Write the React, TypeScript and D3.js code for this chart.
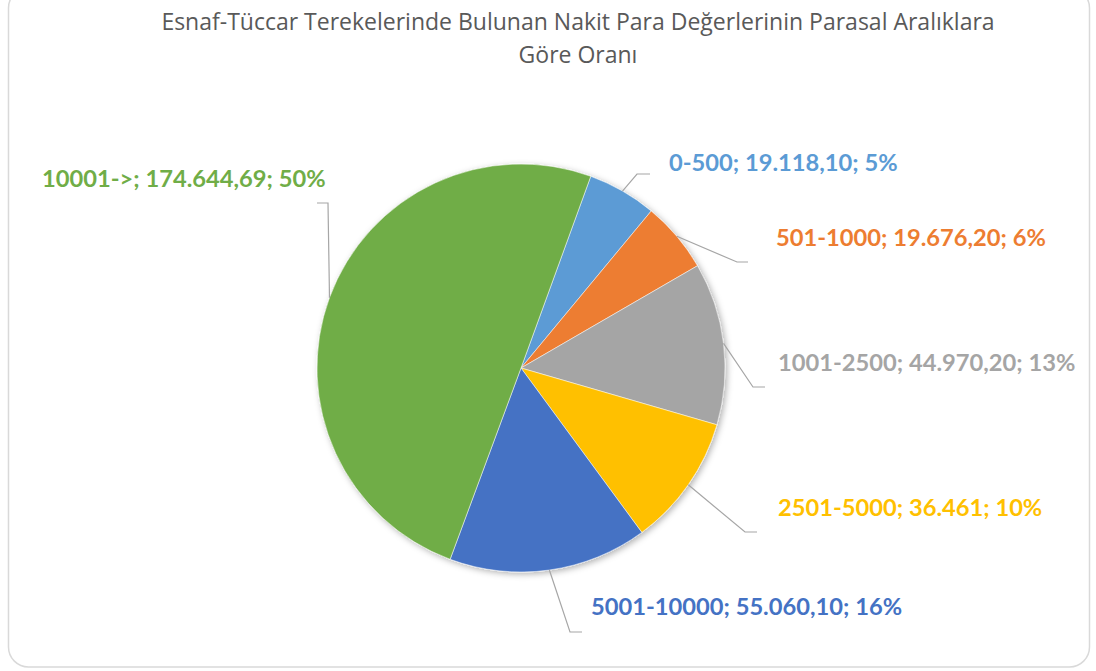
import React from "react";
import * as d3 from "d3";

const categories = ["0-500", "501-1000", "1001-2500", "2501-5000", "5001-10000", "10001->"];
const values = [19118.1, 19676.2, 44970.2, 36461, 55060.1, 174644.69];
const valueLabels = ["19.118,10", "19.676,20", "44.970,20", "36.461", "55.060,10", "174.644,69"];
const colors = ["#5B9BD5", "#ED7D31", "#A5A5A5", "#FFC000", "#4472C4", "#70AD47"];
const titleLines = [
  "Esnaf-Tüccar Terekelerinde Bulunan Nakit Para Değerlerinin Parasal Aralıklara",
  "Göre Oranı",
];

// label placement (text left x, text middle y, elbow of leader, end of leader)
const labelLayout = [
  { lx: 669, ly: 162, ex: 637, ey: 174, hx: 650 },
  { lx: 776, ly: 237, ex: 737, ey: 262, hx: 748 },
  { lx: 778, ly: 362, ex: 753, ey: 387, hx: 765 },
  { lx: 778, ly: 507, ex: 745, ey: 532, hx: 757 },
  { lx: 591, ly: 606, ex: 570, ey: 632, hx: 582 },
  { lx: 42, ly: 178, ex: 328, ey: 203, hx: 317 },
];

const W = 1096;
const H = 671;
const cx = 521;
const cy = 368;
const R = 204;

export default function App() {
  const total = d3.sum(values);
  const pie = d3
    .pie<number>()
    .sort(null)
    .startAngle((20 * Math.PI) / 180)
    .endAngle((380 * Math.PI) / 180);
  const arcs = pie(values);
  const arc = d3.arc<d3.PieArcDatum<number>>().innerRadius(0).outerRadius(R);

  return (
    <svg
      width={W}
      height={H}
      style={{ position: "absolute", left: 0, top: 0 }}
    >
      <defs>
        <filter id="shadow" x="-20%" y="-20%" width="140%" height="140%">
          <feDropShadow dx="2" dy="2" stdDeviation="3" floodColor="#000" floodOpacity="0.3" />
        </filter>
      </defs>
      <rect x={0} y={0} width={W} height={H} fill="#fff" />
      <rect
        x={8.5}
        y={-12}
        width={1081}
        height={679}
        rx={20}
        fill="#fff"
        stroke="#d9d9d9"
        strokeWidth={1.5}
      />
      <g fontFamily="'Open Sans', sans-serif" fontSize={23} fill="#595959" textAnchor="middle">
        {titleLines.map((t, i) => (
          <text key={i} x={578} y={21 + i * 33} dominantBaseline="central">
            {t}
          </text>
        ))}
      </g>
      <g transform={`translate(${cx},${cy})`} filter="url(#shadow)">
        {arcs.map((a, i) => (
          <path key={i} d={arc(a) || ""} fill={colors[i]} stroke="#fff" strokeWidth={0.5} />
        ))}
      </g>
      <g>
        {arcs.map((a, i) => {
          const mid = (a.startAngle + a.endAngle) / 2;
          const sx = cx + R * Math.sin(mid);
          const sy = cy - R * Math.cos(mid);
          const L = labelLayout[i];
          return (
            <polyline
              key={i}
              points={`${sx},${sy} ${L.ex},${L.ey} ${L.hx},${L.ey}`}
              fill="none"
              stroke="#a6a6a6"
              strokeWidth={1.2}
            />
          );
        })}
      </g>
      <g fontFamily="Lato, sans-serif" fontWeight="bold" fontSize={23.7}>
        {categories.map((c, i) => {
          const pct = Math.round((values[i] / total) * 100);
          const L = labelLayout[i];
          return (
            <text key={c} x={L.lx} y={L.ly} dominantBaseline="central" fill={colors[i]}>
              {`${c}; ${valueLabels[i]}; ${pct}%`}
            </text>
          );
        })}
      </g>
    </svg>
  );
}
